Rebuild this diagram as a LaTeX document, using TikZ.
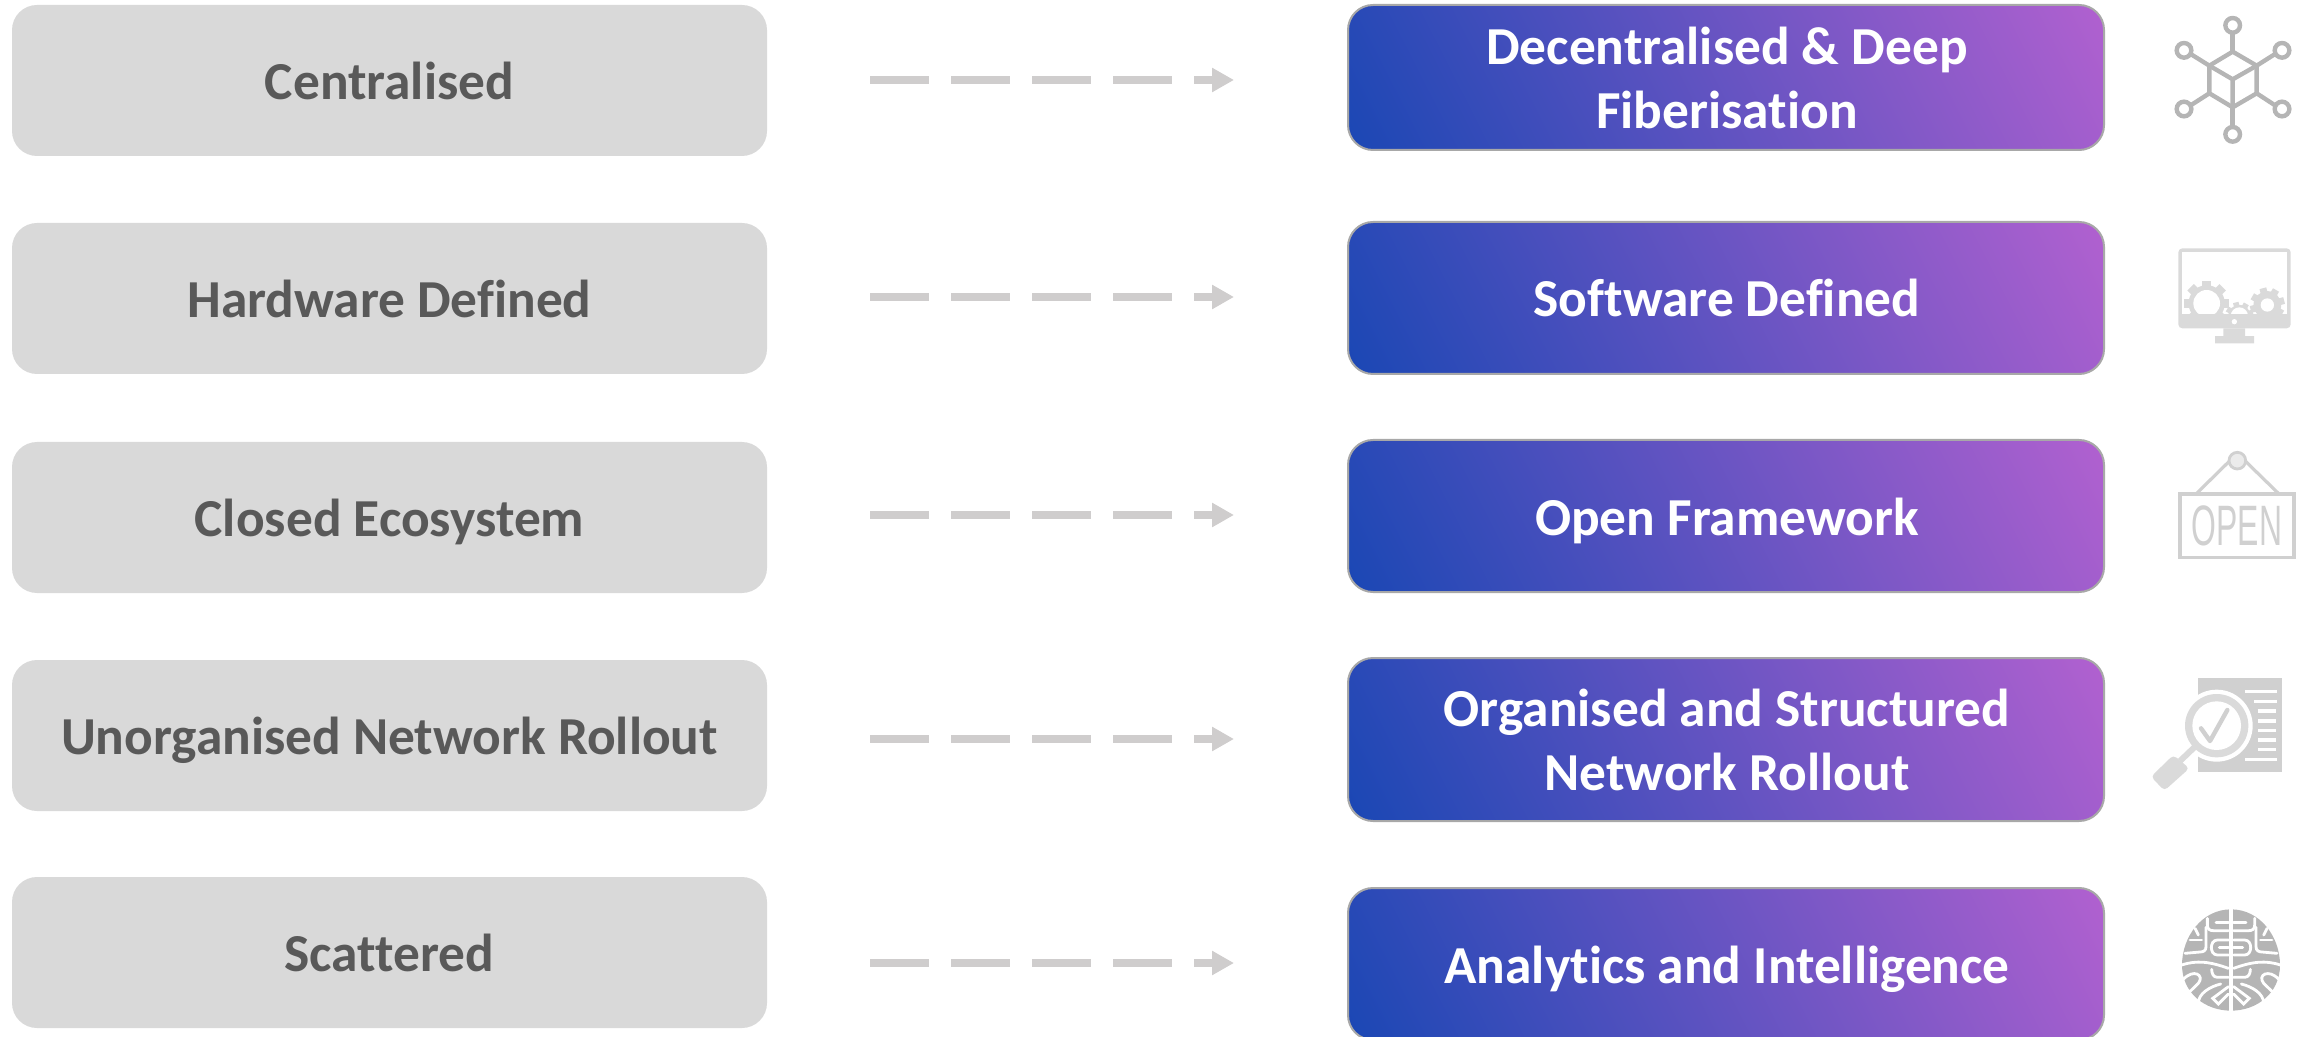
\documentclass[tikz,border=0pt]{standalone}
\usepackage{fontspec}
\setmainfont{Carlito}[Ligatures=NoCommon]
\newfontfamily\signfont{Liberation Sans}
\usetikzlibrary{arrows.meta,calc}
\definecolor{leftfill}{HTML}{D9D9D9}
\definecolor{lefttext}{HTML}{595959}
\definecolor{bluestart}{HTML}{1A47B4}
\definecolor{purpleend}{HTML}{B361D0}
\definecolor{edgegray}{HTML}{A8A8A8}
\definecolor{flowgray}{HTML}{CFCDCD}
\definecolor{icona}{HTML}{B5B5B5}
\definecolor{iconb}{HTML}{DADADA}
\definecolor{iconc}{HTML}{D0D0D0}
\newcommand{\icongear}[5]{%
  \fill[iconb] (#1,#2) circle[radius=#3*0.8];
  \foreach \a in {0,45,...,315}{\fill[iconb,rotate around={\a+#5:(#1,#2)}] ($(#1,#2)+(-#3*0.2,0)$) rectangle ($(#1,#2)+(#3*0.2,-#3)$);}
  \fill[white] (#1,#2) circle[radius=#4];
}
\newcommand{\lp}{\rule[-5pt]{0pt}{29pt}}
\newcommand{\lpr}{\rule[-5pt]{0pt}{29pt}\hspace{1pt}}
\tikzset{
  leftbox/.style={rectangle,rounded corners=12.5pt,fill=leftfill,text=lefttext,font=\fontsize{26.7}{31.7}\selectfont\bfseries,minimum width=377.5pt,minimum height=75.5pt,inner sep=0pt,align=center},
  rightbox/.style={rectangle,rounded corners=12.5pt,draw=edgegray,line width=1pt,text=white,font=\fontsize{26.7}{31.7}\selectfont\bfseries,minimum width=378pt,inner sep=0pt,align=center,
    path picture={
      \coordinate (cc) at (path picture bounding box.center);
      \shade[transform canvas={rotate around={27:(cc)}},left color=bluestart,right color=purpleend]
        ($(cc)+(-186pt,-130pt)$) rectangle ($(cc)+(190pt,130pt)$);
    }},
  flow/.style={draw=flowgray,line width=3.75pt,dash pattern=on 29.5pt off 11pt,-{Triangle[length=11pt,width=11.5pt,fill=flowgray]}},
  iconscope/.style={x=0.166667pt,y=-0.166667pt},
}
\begin{document}
\begin{tikzpicture}[x=0.5pt,y=-0.5pt]
\useasboundingbox (0,0) rectangle (2308,1037);
% left boxes
\node[leftbox] (l1) at (389.5,80.5) {\lp Centralised};
\node[leftbox] (l2) at (389.5,298.5) {\lp Hardware Defined};
\node[leftbox] (l3) at (389.5,517.5) {\lp Closed Ecosystem};
\node[leftbox] (l4) at (389.5,735.5) {\lp Unorganised Network Rollout};
\node[leftbox] (l5) at (389.5,952.5) {\lp Scattered};
% right boxes
\node[rightbox,minimum height=72.5pt] (r1) at (1726,77.5) {\lpr Decentralised \& Deep\\\lpr Fiberisation};
\node[rightbox,minimum height=76pt] (r2) at (1726,298) {\lpr Software Defined};
\node[rightbox,minimum height=76pt] (r3) at (1726,516) {\lpr Open Framework};
\node[rightbox,minimum height=81.5pt] (r4) at (1726,739.5) {\lpr Organised and Structured\\\lpr Network Rollout};
\node[rightbox,minimum height=76pt] (r5) at (1726,964) {\lpr Analytics and Intelligence};
% connectors
\coordinate (y1) at (0,80);
\coordinate (y2) at (0,297);
\coordinate (y3) at (0,515);
\coordinate (y4) at (0,739);
\coordinate (y5) at (0,963);
\draw[flow,shorten <=51.5pt,shorten >=56.5pt] (l1.east |- y1) -- (r1.west |- y1);
\draw[flow,shorten <=51.5pt,shorten >=56.5pt] (l2.east |- y2) -- (r2.west |- y2);
\draw[flow,shorten <=51.5pt,shorten >=56.5pt] (l3.east |- y3) -- (r3.west |- y3);
\draw[flow,shorten <=51.5pt,shorten >=56.5pt] (l4.east |- y4) -- (r4.west |- y4);
\draw[flow,shorten <=51.5pt,shorten >=56.5pt] (l5.east |- y5) -- (r5.west |- y5);
% icon 1: network cube
\begin{scope}[iconscope,shift={(1065pt,0pt)},draw=icona,line width=2.2pt]
  \draw (308,155) -- (380,197) -- (380,280) -- (308,322) -- (238,280) -- (238,197) -- cycle;
  \draw (238,197) -- (308,238) -- (380,197) (308,238) -- (308,322);
  \draw (308,100) -- (308,155) (308,322) -- (308,380);
  \draw (185,164) -- (238,197) (432,164) -- (380,197) (185,314) -- (238,280) (432,314) -- (380,280);
  \foreach \p in {(308,76),(162,151),(456,151),(162,327),(456,327),(308,403)}
    \draw[fill=white] \p circle[radius=22];
\end{scope}
% icon 2: monitor with gears
\begin{scope}[iconscope,shift={(1065pt,-110pt)}]
  \fill[iconb,rounded corners=2pt] (145,85) rectangle (482,325);
  \fill[white] (155,95) rectangle (472,283);
  \begin{scope}
    \clip (155,95) rectangle (472,280);
    \icongear{230}{250}{68}{40}{0}
    \icongear{328}{288}{42}{26}{15}
    \icongear{412}{255}{52}{20}{15}
  \end{scope}
  \fill[white] (313,305) circle[radius=8];
  \fill[iconb] (280,325) rectangle (345,348) (255,348) rectangle (372,370);
\end{scope}
% icon 3: open sign
\begin{scope}[iconscope,shift={(1065pt,-215pt)}]
  \draw[iconc,line width=1.6pt] (200,190) -- (322,70) -- (445,190);
  \draw[iconc,line width=1.4pt,fill=white!92!black] (322,92) circle[radius=25];
  \draw[iconc,line width=1.7pt] (150,192) rectangle (492,382);
  \node[text=iconc,font=\fontsize{28.5}{30}\signfont,xscale=0.56,inner sep=0pt] (opensign) at (321,287) {OPEN};
\end{scope}
% icon 4: magnifier and document
\begin{scope}[iconscope,shift={(1065pt,-330pt)}]
  \fill[iconc] (203,55) rectangle (457,337);
  \foreach \xa/\yy/\xb in {345/94/440,372/124/440,383/153/438,385/183/438,385/212/438,385/240/438,385/269/438,345/298/440}
    \draw[white,line width=1.6pt] (\xa,\yy) -- (\xb,\yy);
  \fill[white] (260,197) circle[radius=108];
  \fill[iconb] (260,197) circle[radius=95];
  \fill[white] (260,197) circle[radius=73];
  \draw[iconc,line width=2.2pt,line cap=round,line join=round] (213,205) -- (240,243) -- (292,150);
  \draw[iconb,line width=3pt] (195,260) -- (150,303);
  \fill[iconb,rounded corners=2pt] (130,285) -- (178,325) -- (103,392) -- (63,350) -- cycle;
\end{scope}
% icon 5: brain
\begin{scope}[iconscope,shift={(1065pt,-445pt)}]
  \fill[icona] (303,58) .. controls (390,58) and (450,140) .. (450,225) .. controls (450,310) and (380,362) .. (303,362) .. controls (226,362) and (156,310) .. (156,225) .. controls (156,140) and (216,58) .. (303,58) -- cycle;
  \draw[white,line width=2.4pt] (303,50) -- (303,370);
  \foreach \s/\o in {1/0,-1/606}{
    \begin{scope}[line width=1.4pt,line cap=round,xscale=\s,xshift=-\o*0.166667pt]
      \draw[white] (295,98) -- (258,98);
      \draw[white] (232,85) -- (232,105) .. controls (232,118) and (240,122) .. (250,122) -- (295,122);
      \draw[white] (295,150) -- (262,150) .. controls (238,150) and (238,195) .. (262,195) -- (295,195);
      \draw[white] (295,172) -- (268,172);
      \draw[white] (228,112) -- (228,170) .. controls (228,182) and (220,186) .. (210,186) -- (165,190);
      \draw[white] (180,150) -- (215,150);
      \draw[white] (195,115) -- (205,135);
      \draw[white] (155,225) .. controls (200,210) and (240,215) .. (295,235);
      \draw[white] (295,262) -- (262,262) .. controls (250,262) and (245,250) .. (245,238);
      \draw[white] (160,268) .. controls (190,235) and (225,255) .. (205,280) -- (172,312);
      \draw[white] (205,340) .. controls (205,310) and (240,290) .. (272,282);
      \draw[white] (295,290) -- (248,325) -- (265,342) -- (295,312);
    \end{scope}
  }
\end{scope}
\end{tikzpicture}
\end{document}
